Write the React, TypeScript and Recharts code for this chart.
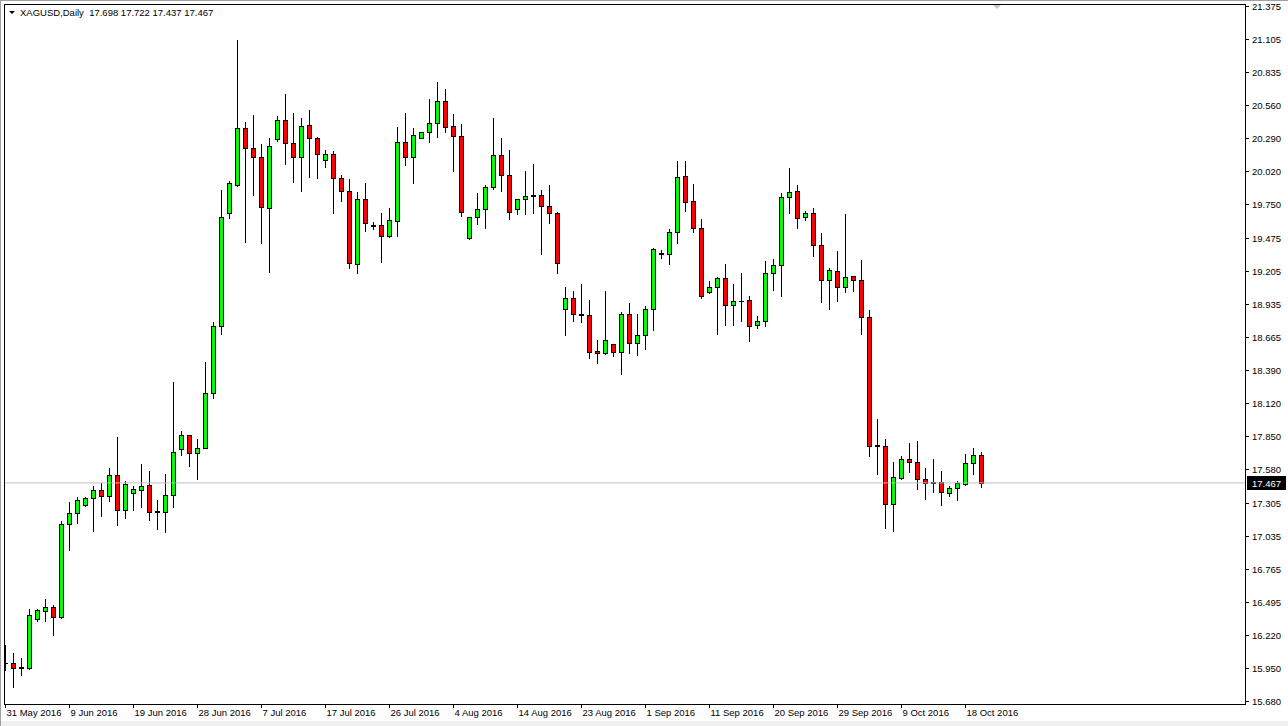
import React from 'react';
import { ComposedChart, Bar, XAxis, YAxis, ReferenceLine } from 'recharts';

const dates = [
  '31 May 2016', '1 Jun 2016', '2 Jun 2016', '3 Jun 2016', '5 Jun 2016', '6 Jun 2016', '7 Jun 2016', '8 Jun 2016', '9 Jun 2016',
  '10 Jun 2016', '12 Jun 2016', '13 Jun 2016', '14 Jun 2016', '15 Jun 2016', '16 Jun 2016', '17 Jun 2016', '19 Jun 2016',
  '20 Jun 2016', '21 Jun 2016', '22 Jun 2016', '23 Jun 2016', '24 Jun 2016', '26 Jun 2016', '27 Jun 2016', '28 Jun 2016',
  '29 Jun 2016', '30 Jun 2016', '1 Jul 2016', '3 Jul 2016', '4 Jul 2016', '5 Jul 2016', '6 Jul 2016', '7 Jul 2016',
  '8 Jul 2016', '10 Jul 2016', '11 Jul 2016', '12 Jul 2016', '13 Jul 2016', '14 Jul 2016', '15 Jul 2016', '17 Jul 2016',
  '18 Jul 2016', '19 Jul 2016', '20 Jul 2016', '21 Jul 2016', '22 Jul 2016', '24 Jul 2016', '25 Jul 2016', '26 Jul 2016',
  '27 Jul 2016', '28 Jul 2016', '29 Jul 2016', '31 Jul 2016', '1 Aug 2016', '2 Aug 2016', '3 Aug 2016', '4 Aug 2016',
  '5 Aug 2016', '7 Aug 2016', '8 Aug 2016', '9 Aug 2016', '10 Aug 2016', '11 Aug 2016', '12 Aug 2016', '14 Aug 2016',
  '15 Aug 2016', '16 Aug 2016', '17 Aug 2016', '18 Aug 2016', '19 Aug 2016', '21 Aug 2016', '22 Aug 2016', '23 Aug 2016',
  '24 Aug 2016', '25 Aug 2016', '26 Aug 2016', '28 Aug 2016', '29 Aug 2016', '30 Aug 2016', '31 Aug 2016', '1 Sep 2016',
  '2 Sep 2016', '4 Sep 2016', '5 Sep 2016', '6 Sep 2016', '7 Sep 2016', '8 Sep 2016', '9 Sep 2016', '11 Sep 2016',
  '12 Sep 2016', '13 Sep 2016', '14 Sep 2016', '15 Sep 2016', '16 Sep 2016', '18 Sep 2016', '19 Sep 2016', '20 Sep 2016',
  '21 Sep 2016', '22 Sep 2016', '23 Sep 2016', '25 Sep 2016', '26 Sep 2016', '27 Sep 2016', '28 Sep 2016', '29 Sep 2016',
  '30 Sep 2016', '2 Oct 2016', '3 Oct 2016', '4 Oct 2016', '5 Oct 2016', '6 Oct 2016', '7 Oct 2016', '9 Oct 2016',
  '10 Oct 2016', '11 Oct 2016', '12 Oct 2016', '13 Oct 2016', '14 Oct 2016', '16 Oct 2016', '17 Oct 2016', '18 Oct 2016',
  '19 Oct 2016', '20 Oct 2016',
];

const opens = [
  15.990, 15.989, 15.950, 15.951, 16.350, 16.420, 16.448, 16.366, 17.128, 17.218,
  17.284, 17.341, 17.407, 17.362, 17.532, 17.243, 17.383, 17.411, 17.447, 17.233,
  17.226, 17.364, 17.749, 17.860, 17.716, 17.757, 18.201, 18.749, 19.682, 19.910,
  20.373, 20.209, 20.135, 19.717, 20.283, 20.439, 20.250, 20.135, 20.398, 20.291,
  20.111, 20.160, 19.963, 19.857, 19.259, 19.794, 19.573, 19.578, 19.488, 19.617,
  20.261, 20.140, 20.296, 20.340, 20.414, 20.594, 20.389, 20.307, 19.472, 19.644,
  19.709, 19.890, 20.152, 19.988, 19.709, 19.791, 19.819, 19.824, 19.734, 19.676,
  18.890, 18.980, 18.848, 18.843, 18.548, 18.529, 18.603, 18.542, 18.849, 18.616,
  18.677, 18.890, 19.354, 19.341, 19.521, 19.982, 19.777, 19.554, 19.029, 19.070,
  19.146, 18.923, 18.956, 18.964, 18.759, 18.791, 19.185, 19.250, 19.808, 19.857,
  19.644, 19.676, 19.414, 19.127, 19.201, 19.075, 19.160, 19.130, 18.824, 17.774,
  17.767, 17.292, 17.510, 17.661, 17.636, 17.497, 17.474, 17.472, 17.382, 17.428,
  17.458, 17.628, 17.698,
];

const highs = [
  16.139, 16.074, 16.035, 16.434, 16.434, 16.516, 16.467, 17.155, 17.313, 17.349,
  17.349, 17.444, 17.469, 17.587, 17.846, 17.480, 17.444, 17.625, 17.563, 17.328,
  17.544, 18.297, 17.890, 17.862, 17.827, 18.458, 18.783, 19.867, 19.940, 21.100,
  20.427, 20.482, 20.242, 20.291, 20.474, 20.654, 20.496, 20.455, 20.523, 20.304,
  20.195, 20.187, 19.990, 19.958, 19.848, 19.922, 19.603, 19.676, 19.722, 20.384,
  20.496, 20.373, 20.345, 20.611, 20.750, 20.695, 20.490, 20.408, 19.648, 19.840,
  19.908, 20.455, 20.291, 20.195, 19.793, 20.023, 20.078, 19.867, 19.908, 19.690,
  19.070, 19.040, 19.095, 18.966, 18.638, 19.040, 18.605, 18.865, 18.939, 18.851,
  18.917, 19.392, 19.376, 19.545, 20.105, 20.105, 19.914, 19.630, 19.124, 19.157,
  19.261, 19.097, 19.190, 19.001, 18.835, 19.286, 19.302, 19.845, 20.050, 19.908,
  19.695, 19.717, 19.513, 19.231, 19.370, 19.671, 19.162, 19.294, 18.884, 17.991,
  17.825, 17.639, 17.688, 17.797, 17.811, 17.587, 17.663, 17.565, 17.442, 17.483,
  17.704, 17.751, 17.722,
];

const lows = [
  15.934, 15.795, 15.893, 15.940, 16.338, 16.338, 16.221, 16.360, 16.918, 17.136,
  17.278, 17.073, 17.196, 17.322, 17.122, 17.180, 17.245, 17.272, 17.162, 17.093,
  17.065, 17.267, 17.693, 17.605, 17.499, 17.755, 18.165, 18.691, 19.641, 19.904,
  19.445, 19.826, 19.431, 19.198, 20.269, 20.078, 19.935, 19.862, 19.976, 19.968,
  20.058, 19.681, 19.780, 19.226, 19.190, 19.534, 19.548, 19.280, 19.480, 19.493,
  20.072, 19.927, 20.291, 20.263, 20.304, 20.340, 20.026, 19.657, 19.463, 19.589,
  19.558, 19.873, 19.862, 19.627, 19.668, 19.673, 19.681, 19.341, 19.599, 19.191,
  18.679, 18.796, 18.788, 18.493, 18.452, 18.521, 18.510, 18.360, 18.534, 18.518,
  18.565, 18.720, 19.308, 19.261, 19.436, 19.695, 19.526, 18.985, 19.027, 18.687,
  18.761, 18.761, 18.796, 18.630, 18.734, 18.755, 19.048, 19.001, 19.676, 19.558,
  19.622, 19.329, 18.952, 18.892, 18.960, 19.034, 19.042, 18.685, 17.690, 17.538,
  17.095, 17.076, 17.499, 17.559, 17.417, 17.333, 17.395, 17.286, 17.362, 17.327,
  17.450, 17.543, 17.437,
];

const closes = [
  15.995, 15.948, 15.956, 16.385, 16.423, 16.448, 16.366, 17.128, 17.218, 17.327,
  17.341, 17.407, 17.362, 17.532, 17.243, 17.458, 17.416, 17.439, 17.231, 17.229,
  17.364, 17.724, 17.860, 17.716, 17.757, 18.201, 18.749, 19.646, 19.924, 20.375,
  20.209, 20.135, 19.726, 20.225, 20.439, 20.250, 20.135, 20.389, 20.291, 20.160,
  20.160, 19.963, 19.857, 19.267, 19.794, 19.595, 19.577, 19.488, 19.619, 20.261,
  20.140, 20.318, 20.340, 20.414, 20.594, 20.386, 20.307, 19.690, 19.646, 19.709,
  19.890, 20.152, 19.988, 19.685, 19.791, 19.816, 19.823, 19.734, 19.676, 19.273,
  18.980, 18.849, 18.844, 18.542, 18.529, 18.636, 18.542, 18.849, 18.616, 18.677,
  18.890, 19.384, 19.341, 19.521, 19.971, 19.772, 19.554, 19.001, 19.070, 19.146,
  18.923, 18.958, 18.960, 18.750, 18.791, 19.185, 19.250, 19.808, 19.853, 19.635,
  19.676, 19.414, 19.127, 19.209, 19.075, 19.152, 19.127, 18.824, 17.772, 17.770,
  17.292, 17.513, 17.661, 17.636, 17.497, 17.464, 17.470, 17.390, 17.428, 17.464,
  17.628, 17.694, 17.467,
];

const tickDates = [
  '31 May 2016', '9 Jun 2016', '19 Jun 2016', '28 Jun 2016', '7 Jul 2016', '17 Jul 2016',
  '26 Jul 2016', '4 Aug 2016', '14 Aug 2016', '23 Aug 2016', '1 Sep 2016', '11 Sep 2016',
  '20 Sep 2016', '29 Sep 2016', '9 Oct 2016', '18 Oct 2016',
];

const priceTicks = [
  21.375, 21.105, 20.835, 20.56, 20.29, 20.02, 19.75, 19.475, 19.205, 18.935, 18.665,
  18.39, 18.12, 17.85, 17.58, 17.305, 17.035, 16.765, 16.495, 16.22, 15.95, 15.68,
];

const symbolName = 'XAGUSD,Daily';

const BULL = '#00ff00';
const BEAR = '#ff0000';
const FONT = '"Liberation Sans", Arial, sans-serif';
const FS = 9.5;

const data = dates.map((d, i) => ({ i, date: d, o: opens[i], h: highs[i], l: lows[i], c: closes[i] }));
const last = data[data.length - 1];
const lastClose = last.c;
const tickIdx = tickDates.map((t) => dates.indexOf(t));
const yTicks = [...priceTicks, lastClose];
const title = `${symbolName}  ${last.o.toFixed(3)} ${last.h.toFixed(3)} ${last.l.toFixed(3)} ${last.c.toFixed(3)}`;

const Candle = (props: any) => {
  const { x, y, width, height, payload } = props;
  if (x == null || y == null || !payload) return null;
  const { o, h, l, c } = payload;
  const top = Math.min(y, y + height);
  const bot = Math.max(y, y + height);
  const k = h - l > 0 ? (bot - top) / (h - l) : 0;
  const cx = Math.floor(x + width / 2) + 0.5;
  const yo = top + (h - o) * k;
  const yc = top + (h - c) * k;
  const bt = Math.round(Math.min(yo, yc));
  const bb = Math.round(Math.max(yo, yc));
  const wt = Math.round(top);
  const wb = Math.round(bot);
  return (
    <g>
      <line x1={cx} x2={cx} y1={wt} y2={wb + 1} stroke="#000" strokeWidth={1} />
      {bb - bt < 1 ? (
        <line x1={cx - 2.5} x2={cx + 2.5} y1={bt + 0.5} y2={bt + 0.5} stroke="#000" strokeWidth={1} />
      ) : (
        <rect x={cx - 2} y={bt + 0.5} width={4} height={bb - bt} fill={c >= o ? BULL : BEAR} stroke="#000" strokeWidth={1} />
      )}
    </g>
  );
};

const DateTick = (props: any) => {
  const { x, y, payload } = props;
  const label = dates[payload.value];
  if (!label) return null;
  const xx = Math.floor(x) + 0.5;
  return (
    <g>
      <line x1={xx} x2={xx} y1={y} y2={y + 4} stroke="#000" strokeWidth={1} />
      <text x={xx + 1} y={y + 12} fontFamily={FONT} fontSize={FS} fill="#000">{label}</text>
    </g>
  );
};

const PriceTick = (props: any) => {
  const { x, y, payload } = props;
  const v = payload.value;
  const yy = Math.round(y) + 0.5;
  if (v === lastClose) {
    return (
      <g>
        <rect x={x + 2} y={yy - 7.5} width={39} height={14} fill="#000" />
        <text x={x + 7} y={yy + 3.5} fontFamily={FONT} fontSize={FS} fill="#fff">{v.toFixed(3)}</text>
      </g>
    );
  }
  return (
    <g>
      <line x1={x} x2={x + 4} y1={yy} y2={yy} stroke="#000" strokeWidth={1} />
      <text x={x + 7} y={yy + 3.5} fontFamily={FONT} fontSize={FS} fill="#000">{v.toFixed(3)}</text>
    </g>
  );
};

export default function App() {
  return (
    <div style={{ position: 'absolute', left: 0, top: 0, width: 1288, height: 726, background: '#fff', fontFamily: FONT, overflow: 'hidden' }}>
      <ComposedChart width={1288} height={726} data={data} margin={{ top: 3, right: 0, bottom: 0, left: 4 }}>
        <XAxis
          dataKey="i"
          type="number"
          domain={[-0.1875, 154.9375]}
          allowDataOverflow
          ticks={tickIdx}
          interval={0}
          height={22}
          tickSize={0}
          tickMargin={0}
          axisLine={false}
          tickLine={false}
          tick={<DateTick />}
        />
        <YAxis
          orientation="right"
          type="number"
          domain={[15.6554, 21.3996]}
          allowDataOverflow
          ticks={yTicks}
          interval={0}
          width={43}
          tickSize={0}
          tickMargin={0}
          axisLine={false}
          tickLine={false}
          tick={<PriceTick />}
        />
        <ReferenceLine y={lastClose} stroke="#c0c0c0" strokeWidth={1} ifOverflow="hidden" />
        <Bar dataKey={(d: any) => [d.l, d.h]} barSize={6} shape={<Candle />} isAnimationActive={false} />
      </ComposedChart>
      <svg width={1288} height={726} style={{ position: 'absolute', left: 0, top: 0, pointerEvents: 'none' }}>
        <rect x={0} y={721} width={1288} height={5} fill="#f0f0f0" />
        <line x1={0} x2={1288} y1={0.5} y2={0.5} stroke="#a0a0a0" />
        <line x1={0.5} x2={0.5} y1={0} y2={726} stroke="#a0a0a0" />
        <rect x={4.5} y={4.5} width={1241} height={700} fill="none" stroke="#000" strokeWidth={1} />
        <polygon points="9,11 15,11 12,14" fill="#000" />
        <text x={20} y={16} fontFamily={FONT} fontSize={FS} fill="#000" style={{ whiteSpace: 'pre' }}>{title}</text>
        <polygon points="993,5 1001,5 997,9" fill="#c8c8c8" />
      </svg>
    </div>
  );
}
